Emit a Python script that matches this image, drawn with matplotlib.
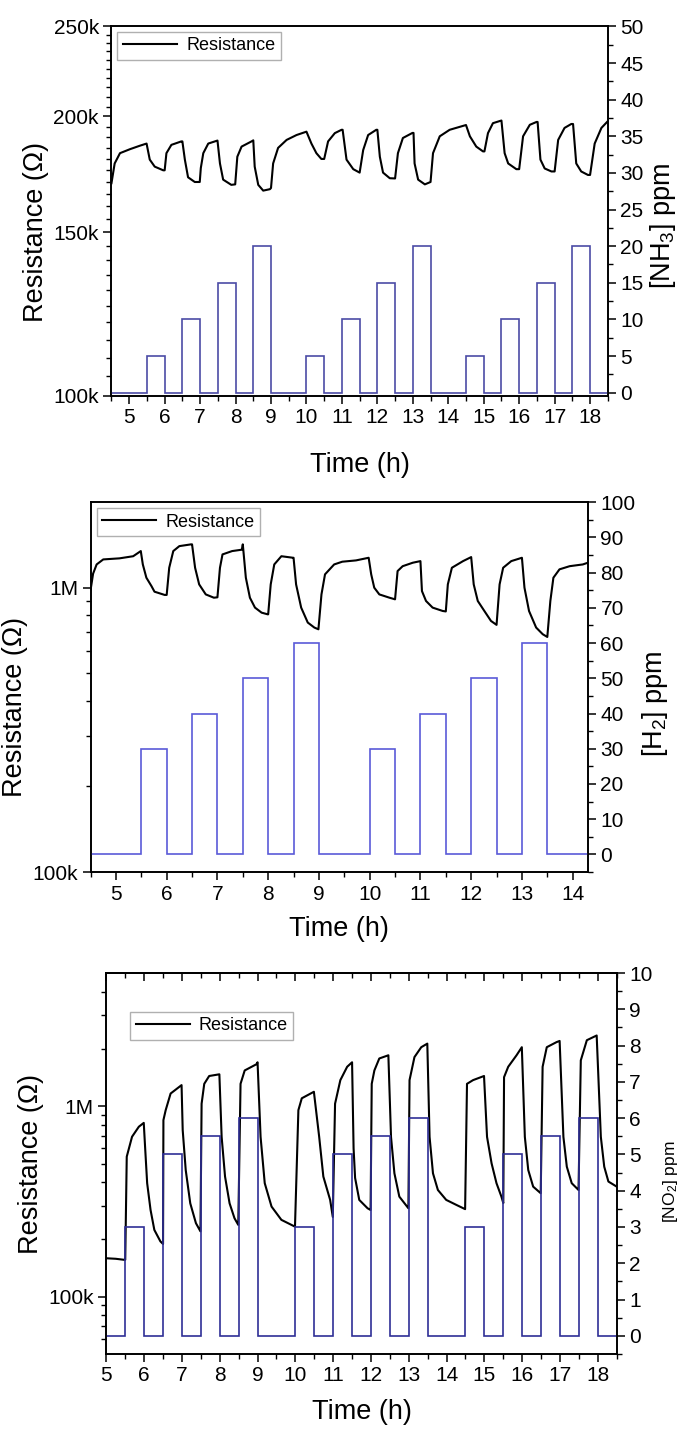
import numpy as np
import matplotlib
matplotlib.use("Agg")
import matplotlib.pyplot as plt
from matplotlib.ticker import FixedLocator, FixedFormatter, NullFormatter, MultipleLocator

plt.rcParams['font.family'] = ['Liberation Sans', 'DejaVu Sans']
plt.rcParams['mathtext.fontset'] = 'custom'
plt.rcParams['mathtext.rm'] = 'Liberation Sans'
plt.rcParams['mathtext.it'] = 'Liberation Sans:italic'

# ---------------- Panel 1 : NH3 ----------------
nh3_t = [4.50, 4.59, 4.74, 5.02, 5.30, 5.49, 5.58, 5.72, 5.96, 6.00, 6.05, 6.19, 6.47, 6.50,
         6.57, 6.66, 6.85, 6.99, 7.02, 7.09, 7.23, 7.49, 7.56, 7.65, 7.88, 7.99, 8.05, 8.17,
         8.45, 8.50, 8.54, 8.64, 8.78, 8.97, 9.00, 9.06, 9.20, 9.44, 9.72, 10.00, 10.14, 10.28,
         10.42, 10.50, 10.61, 10.80, 10.99, 11.02, 11.13, 11.32, 11.50, 11.60, 11.74, 11.97,
         12.00, 12.07, 12.16, 12.35, 12.50, 12.58, 12.72, 12.99, 13.02, 13.05, 13.15, 13.34,
         13.50, 13.57, 13.76, 14.04, 14.42, 14.50, 14.61, 14.79, 14.98, 15.02, 15.12, 15.26,
         15.50, 15.59, 15.69, 15.92, 16.00, 16.11, 16.30, 16.49, 16.52, 16.60, 16.72, 16.91,
         17.00, 17.10, 17.28, 17.47, 17.52, 17.61, 17.75, 17.94, 18.00, 18.13, 18.32, 18.48]
nh3_r = [169.5, 178.0, 182.6, 184.4, 186.0, 187.0, 179.7, 176.6, 175.0, 175.0, 182.6, 186.4, 188.0, 188.0,
         179.7, 172.0, 170.0, 170.0, 176.0, 182.6, 187.0, 188.4, 178.0, 171.0, 168.8, 169.0, 181.0, 185.6,
         188.0, 188.5, 176.6, 168.8, 166.4, 167.0, 167.5, 178.0, 185.0, 188.7, 191.0, 192.6, 187.0, 182.6,
         180.0, 180.0, 188.0, 191.9, 193.5, 193.5, 179.7, 175.5, 174.0, 184.0, 191.0, 193.5,
         193.5, 181.0, 174.0, 171.6, 171.5, 182.6, 189.6, 192.0, 192.0, 178.0, 171.0, 169.0,
         170.0, 182.6, 190.4, 193.5, 195.4, 195.8, 190.4, 185.6, 183.4, 183.4, 191.9, 196.7,
         198.0, 182.6, 178.0, 175.5, 175.5, 190.4, 195.9, 197.3, 197.3, 179.7, 175.8, 174.5,
         174.5, 188.7, 194.4, 196.3, 196.3, 178.0, 174.5, 173.0, 173.0, 187.0, 194.4, 197.3]
nh3_edges = [4.5, 5.5, 6.0, 6.5, 7.0, 7.5, 8.0, 8.5, 9.0, 10.0, 10.5, 11.0, 11.5, 12.0, 12.5,
             13.0, 13.5, 14.5, 15.0, 15.5, 16.0, 16.5, 17.0, 17.5, 18.0, 18.5]
nh3_ppm = [0, 5, 0, 10, 0, 15, 0, 20, 0, 5, 0, 10, 0, 15, 0, 20, 0, 5, 0, 10, 0, 15, 0, 20, 0]

# ---------------- Panel 2 : H2 ----------------
h2_t = [4.50, 4.55, 4.62, 4.75, 5.07, 5.34, 5.49, 5.53, 5.60, 5.70, 5.76, 5.96, 6.00, 6.05, 6.13,
        6.25, 6.48, 6.50, 6.56, 6.64, 6.77, 6.93, 7.00, 7.05, 7.10, 7.29, 7.48, 7.50, 7.56, 7.64,
        7.74, 7.87, 7.99, 8.00, 8.05, 8.12, 8.26, 8.49, 8.50, 8.55, 8.65, 8.78, 8.91, 8.99, 9.05,
        9.12, 9.30, 9.46, 9.73, 9.98, 10.03, 10.09, 10.19, 10.39, 10.50, 10.55, 10.65, 10.85,
        11.00, 11.03, 11.11, 11.24, 11.44, 11.50, 11.54, 11.62, 11.84, 12.00, 12.05, 12.13,
        12.26, 12.39, 12.50, 12.56, 12.63, 12.79, 13.00, 13.05, 13.14, 13.28, 13.41, 13.50,
        13.56, 13.62, 13.74, 13.94, 14.20, 14.30]
h2_r = [0.98, 1.12, 1.207, 1.257, 1.268, 1.29, 1.345, 1.207, 1.084, 1.013, 0.968, 0.943, 0.943, 1.175, 1.345,
        1.40, 1.42, 1.42, 1.175, 1.027, 0.947, 0.922, 0.925, 1.175, 1.309, 1.345, 1.36, 1.42, 1.084, 0.922,
        0.851, 0.817, 0.806, 0.806, 1.027, 1.207, 1.29, 1.274, 1.274, 1.027, 0.851, 0.754, 0.724, 0.714, 0.947,
        1.114, 1.207, 1.234, 1.247, 1.274, 1.114, 1.00, 0.947, 0.922, 0.91, 1.144, 1.19, 1.224,
        1.24, 0.973, 0.898, 0.851, 0.828, 0.825, 1.027, 1.175, 1.24, 1.281, 1.027, 0.898,
        0.828, 0.764, 0.74, 1.027, 1.175, 1.24, 1.274, 1.00, 0.828, 0.724, 0.686, 0.671,
        0.898, 1.084, 1.16, 1.19, 1.207, 1.224]
h2_edges = [4.5, 5.5, 6.0, 6.5, 7.0, 7.5, 8.0, 8.5, 9.0, 10.0, 10.5, 11.0, 11.5, 12.0, 12.5,
            13.0, 13.5, 14.3]
h2_ppm = [0, 30, 0, 40, 0, 50, 0, 60, 0, 30, 0, 40, 0, 50, 0, 60, 0]

# ---------------- Panel 3 : NO2 ----------------
no2_t = [5.00, 5.25, 5.48, 5.50, 5.54, 5.68, 5.86, 5.99, 6.02, 6.08, 6.17, 6.27, 6.43, 6.50, 6.51,
         6.57, 6.70, 6.99, 7.02, 7.10, 7.22, 7.37, 7.49, 7.52, 7.59, 7.72, 7.99, 8.05, 8.14, 8.26,
         8.39, 8.49, 8.55, 8.66, 8.97, 9.00, 9.08, 9.19, 9.37, 9.63, 9.99, 10.08, 10.17, 10.49,
         10.63, 10.74, 10.92, 10.99, 11.05, 11.19, 11.37, 11.50, 11.54, 11.58, 11.69, 11.91, 11.99,
         12.02, 12.09, 12.22, 12.46, 12.53, 12.62, 12.75, 12.99, 13.02, 13.15, 13.33, 13.49, 13.55,
         13.64, 13.77, 13.99, 14.26, 14.49, 14.54, 14.70, 14.99, 15.07, 15.19, 15.32, 15.45, 15.50,
         15.52, 15.63, 15.85, 15.99, 16.07, 16.16, 16.29, 16.49, 16.54, 16.65, 16.91, 16.99, 17.09,
         17.18, 17.31, 17.49, 17.55, 17.71, 17.97, 18.08, 18.17, 18.28, 18.50]
no2_r = [159, 158, 156, 156, 543, 691, 780, 817, 637, 394, 285, 224, 195, 189, 845,
         953, 1165, 1290, 749, 462, 309, 243, 220, 1030, 1310, 1440, 1470, 690, 427, 309,
         258, 238, 1310, 1540, 1660, 1700, 690, 394, 297, 253, 233, 953, 1100, 1190,
         690, 427, 322, 262, 1030, 1370, 1610, 1700, 600, 420, 322, 291, 285,
         1310, 1540, 1780, 1850, 690, 444, 335, 291, 1370, 1810, 2040, 2130, 690,
         444, 363, 322, 303, 288, 1310, 1370, 1440, 690, 501, 394, 335, 310,
         1420, 1610, 1850, 2040, 690, 462, 378, 349, 1610, 2040, 2170, 2200, 690,
         481, 394, 363, 1740, 2220, 2350, 690, 481, 402, 378]
no2_edges = [5.0, 5.5, 6.0, 6.5, 7.0, 7.5, 8.0, 8.5, 9.0, 10.0, 10.5, 11.0, 11.5, 12.0, 12.5,
             13.0, 13.5, 14.5, 15.0, 15.5, 16.0, 16.5, 17.0, 17.5, 18.0, 18.5]
no2_ppm = [0, 3, 0, 5, 0, 5.5, 0, 6, 0, 3, 0, 5, 0, 5.5, 0, 6, 0, 3, 0, 5, 0, 5.5, 0, 6, 0]

TICK = 15
LAB = 19.5
LEG = 13

fig = plt.figure(figsize=(6.86, 14.32), dpi=100)


def style_common(ax, ax2):
    for a in (ax, ax2):
        for s in a.spines.values():
            s.set_linewidth(1.2)
    ax.tick_params(axis='both', which='major', direction='out', length=6, width=1.1,
                   labelsize=TICK, pad=3)
    ax.tick_params(axis='both', which='minor', direction='out', length=3.5, width=1.0)
    ax2.tick_params(axis='y', which='major', direction='out', length=6, width=1.1,
                    labelsize=TICK, pad=3)
    ax2.tick_params(axis='y', which='minor', direction='out', length=3.5, width=1.0)
    ax.xaxis.set_major_locator(MultipleLocator(1))
    ax.xaxis.set_minor_locator(MultipleLocator(0.5))


def add_legend(ax, anchor):
    ax.legend(loc='upper left', bbox_to_anchor=anchor, fontsize=LEG, fancybox=False,
              edgecolor='#b0b0b0', framealpha=1, handlelength=3.0, borderpad=0.3,
              borderaxespad=0, handletextpad=0.5)


# Panel 1
ax1 = fig.add_axes([0.1625, 0.7235, 0.7235, 0.258])
ax1b = ax1.twinx()
ax1.plot(nh3_t, np.array(nh3_r) * 1e3, color='black', lw=1.5, label='Resistance')
ax1b.stairs(nh3_ppm, nh3_edges, baseline=None, color='#4b4ba6', lw=1.2)
ax1.set_yscale('log')
ax1.set_ylim(100e3, 250e3)
ax1.set_xlim(4.5, 18.5)
ax1b.set_ylim(-0.45, 50)
ax1.yaxis.set_major_locator(FixedLocator([100e3, 150e3, 200e3, 250e3]))
ax1.yaxis.set_major_formatter(FixedFormatter(['100k', '150k', '200k', '250k']))
ax1.yaxis.set_minor_locator(FixedLocator(np.arange(105e3, 250e3, 5e3)))
ax1.yaxis.set_minor_formatter(NullFormatter())
ax1b.yaxis.set_major_locator(MultipleLocator(5))
ax1b.yaxis.set_minor_locator(MultipleLocator(2.5))
style_common(ax1, ax1b)
ax1.set_xlabel('Time (h)', fontsize=LAB, labelpad=18)
ax1.set_ylabel('Resistance (Ω)', fontsize=LAB, labelpad=3)
ax1.yaxis.label.set_y(0.445)
ax1b.set_ylabel('[NH$_3$] ppm', fontsize=LAB, labelpad=3)
ax1b.yaxis.label.set_y(0.46)
add_legend(ax1, (0.012, 0.985))

# Panel 2
ax2 = fig.add_axes([0.132, 0.391, 0.725, 0.2584])
ax2b = ax2.twinx()
ax2.plot(h2_t, np.array(h2_r) * 1e6, color='black', lw=1.5, label='Resistance')
ax2b.stairs(h2_ppm, h2_edges, baseline=None, color='#5a5ad8', lw=1.2)
ax2.set_yscale('log')
ax2.set_ylim(1e5, 2e6)
ax2.set_xlim(4.5, 14.3)
ax2b.set_ylim(-5, 100)
ax2.yaxis.set_major_locator(FixedLocator([1e5, 1e6]))
ax2.yaxis.set_major_formatter(FixedFormatter(['100k', '1M']))
ax2.yaxis.set_minor_locator(FixedLocator([2e5, 3e5, 4e5, 5e5, 6e5, 7e5, 8e5, 9e5]))
ax2.yaxis.set_minor_formatter(NullFormatter())
ax2b.yaxis.set_major_locator(MultipleLocator(10))
ax2b.yaxis.set_minor_locator(MultipleLocator(5))
style_common(ax2, ax2b)
ax2.set_xlabel('Time (h)', fontsize=LAB, labelpad=9)
ax2.set_ylabel('Resistance (Ω)', fontsize=LAB, labelpad=3)
ax2.yaxis.label.set_y(0.445)
ax2b.set_ylabel('[H$_2$] ppm', fontsize=LAB, labelpad=3)
ax2b.yaxis.label.set_y(0.455)
add_legend(ax2, (0.012, 0.983))

# Panel 3
ax3 = fig.add_axes([0.155, 0.0545, 0.744, 0.266])
ax3b = ax3.twinx()
ax3.plot(no2_t, np.array(no2_r) * 1e3, color='black', lw=1.5, label='Resistance')
ax3b.stairs(no2_ppm, no2_edges, baseline=None, color='#2f2f96', lw=1.2)
ax3.set_yscale('log')
ax3.set_ylim(5e4, 5e6)
ax3.set_xlim(5, 18.5)
ax3b.set_ylim(-0.5, 10)
ax3.yaxis.set_major_locator(FixedLocator([1e5, 1e6]))
ax3.yaxis.set_major_formatter(FixedFormatter(['100k', '1M']))
ax3.yaxis.set_minor_locator(FixedLocator([6e4, 7e4, 8e4, 9e4, 2e5, 3e5, 4e5, 5e5, 6e5, 7e5,
                                          8e5, 9e5, 2e6, 3e6, 4e6]))
ax3.yaxis.set_minor_formatter(NullFormatter())
ax3b.yaxis.set_major_locator(MultipleLocator(1))
ax3b.yaxis.set_minor_locator(MultipleLocator(0.5))
style_common(ax3, ax3b)
top = ax3.secondary_xaxis('top')
top.xaxis.set_major_locator(MultipleLocator(1))
top.xaxis.set_minor_locator(MultipleLocator(0.5))
top.tick_params(which='major', direction='in', length=6, width=1.1, labeltop=False)
top.tick_params(which='minor', direction='in', length=3.5, width=1.0)
top.spines['top'].set_linewidth(1.2)
ax3.set_xlabel('Time (h)', fontsize=LAB, labelpad=10)
ax3.set_ylabel('Resistance (Ω)', fontsize=LAB, labelpad=3)
ax3b.set_ylabel('[NO$_2$] ppm', fontsize=12.5, labelpad=6)
ax3b.yaxis.label.set_y(0.453)
add_legend(ax3, (0.047, 0.898))

fig.savefig('out.png', dpi=100)
